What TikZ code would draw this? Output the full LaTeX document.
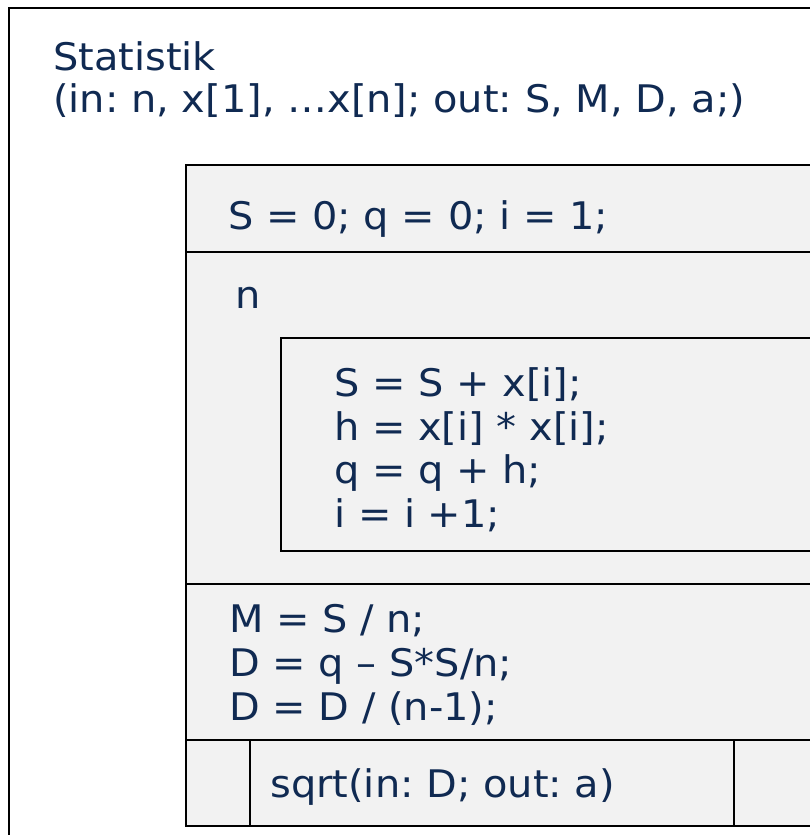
\documentclass[tikz,border=0pt]{standalone}
\usepackage{fontspec}
\setmainfont[FakeStretch=1.05]{DejaVu Sans}
\frenchspacing
\definecolor{txt}{RGB}{16,42,82}
\definecolor{boxfill}{RGB}{242,242,242}
\tikzset{
  lbl/.style={anchor=base west, inner sep=0pt, text=txt, font=\fontsize{28.5pt}{34pt}\selectfont},
  frame/.style={draw=black, line width=1.4pt},
}
\begin{document}
\begin{tikzpicture}[x=0.75pt,y=-0.75pt]
\useasboundingbox (0,0) rectangle (810,835);
\clip (0,0) rectangle (810,835);
% outer frame
\draw[frame, line width=1.1pt, fill=white] (9,8) rectangle (840,860);
% inner block
\draw[frame, fill=boxfill] (186,165) rectangle (840,826);
\draw[frame] (186,252) -- (840,252);
\draw[frame] (186,584) -- (840,584);
\draw[frame] (186,740) -- (840,740);
% loop body
\draw[frame, fill=boxfill] (281,338) rectangle (840,551);
% call box
\draw[frame] (250,740) -- (250,826);
\draw[frame] (734,740) -- (734,826);
% texts
\node[lbl] (title) at (53,70) {Statistik};
\node[lbl] (params) at (53,112) {(in: n, x[1], …x[n]; out: S, M, D, a;)};
\node[lbl] (init) at (228,229) {S = 0; q = 0; i = 1;};
\node[lbl] (cond) at (235,308) {n};
\node[lbl] (l1) at (334,396) {S = S + x[i];};
\node[lbl] (l2) at (334,440) {h = x[i] * x[i];};
\node[lbl] (l3) at (334,483) {q = q + h;};
\node[lbl] (l4) at (334,527) {i = i +1;};
\node[lbl] (m1) at (229,632) {M = S / n;};
\node[lbl] (m2) at (229,676) {D = q – S*S/n;};
\node[lbl] (m3) at (229,720) {D = D / (n-1);};
\node[lbl] (call) at (270,797) {sqrt(in: D; out: a)};
\end{tikzpicture}
\end{document}
